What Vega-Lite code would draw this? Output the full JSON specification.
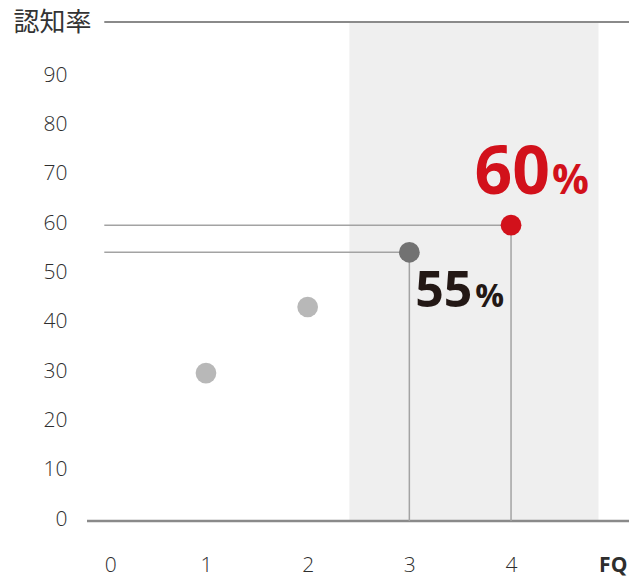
{
  "$schema": "https://vega.github.io/schema/vega-lite/v6.json",
  "width": 542,
  "height": 499,
  "autosize": "none",
  "padding": {"left": 87, "top": 22, "right": 0, "bottom": 58},
  "background": "white",
  "config": {"view": {"stroke": null}},
  "datasets": {
    "points": [
      {"fq": 1, "rate": 30, "grp": "low", "base": 0, "origin": 0},
      {"fq": 2, "rate": 43.4, "grp": "low", "base": 0, "origin": 0},
      {"fq": 3, "rate": 54.5, "grp": "mid", "base": 0, "origin": 0},
      {"fq": 4, "rate": 60, "grp": "high", "base": 0, "origin": 0}
    ],
    "labels": [
      {"fq": 3, "rate": 54.5, "num": "55", "pct": "%"},
      {"fq": 4, "rate": 60, "num": "60", "pct": "%"}
    ]
  },
  "layer": [
    {
      "data": {"values": [{"from": 2.41, "to": 4.86, "low": 0, "high": 101.2}]},
      "mark": {"type": "rect", "color": "#efefef"},
      "encoding": {
        "x": {
          "field": "from",
          "type": "quantitative",
          "scale": {"domain": [-0.17, 5.16], "nice": false, "zero": false},
          "axis": {
            "values": [0, 1, 2, 3, 4, 5],
            "format": "d",
            "labelExpr": "datum.value == 5 ? 'FQ' : datum.label",
            "labelFontWeight": {"condition": {"test": "datum.value == 5", "value": "bold"}, "value": 300},
            "labelColor": "#2e2e2e",
            "labelOffset": {"condition": {"test": "datum.value == 0", "value": 6}, "value": 0},
            "labelFont": "Open Sans",
            "labelFontSize": 21,
            "labelPadding": 33,
            "domain": false,
            "ticks": false,
            "grid": false,
            "title": null
          }
        },
        "x2": {"field": "to"},
        "y": {
          "field": "low",
          "type": "quantitative",
          "scale": {"domain": [0, 101.2], "nice": false},
          "axis": {
            "values": [0, 10, 20, 30, 40, 50, 60, 70, 80, 90],
            "labelFont": "Open Sans",
            "labelFontSize": 21,
            "labelFontWeight": 300,
            "labelColor": "#2e2e2e",
            "labelPadding": 20,
            "labelOffset": -2,
            "domain": false,
            "ticks": false,
            "grid": false,
            "title": "認知率",
            "titleFont": "Noto Sans CJK JP",
            "titleFontSize": 26,
            "titleFontWeight": "normal",
            "titleColor": "#333333",
            "titleAngle": 0,
            "titleAlign": "left",
            "titleBaseline": "middle",
            "titleX": -74,
            "titleY": 0
          }
        },
        "y2": {"field": "high"}
      }
    },
    {
      "data": {"values": [{"start": 0, "end": 5.16, "level": 101.2}]},
      "mark": {"type": "rule", "color": "#8a8a8a", "strokeWidth": 2},
      "encoding": {
        "x": {"field": "start", "type": "quantitative"},
        "x2": {"field": "end"},
        "y": {"field": "level", "type": "quantitative"}
      }
    },
    {
      "data": {"values": [{"start": -0.17, "end": 5.16, "level": 0}]},
      "mark": {"type": "rule", "color": "#8a8a8a", "strokeWidth": 2.5},
      "encoding": {
        "x": {"field": "start", "type": "quantitative"},
        "x2": {"field": "end"},
        "y": {"field": "level", "type": "quantitative"}
      }
    },
    {
      "data": {"name": "points"},
      "transform": [{"filter": "datum.fq >= 3"}],
      "mark": {"type": "rule", "color": "#a3a3a3", "strokeWidth": 1.5},
      "encoding": {
        "x": {"field": "origin", "type": "quantitative"},
        "x2": {"field": "fq"},
        "y": {"field": "rate", "type": "quantitative"}
      }
    },
    {
      "data": {"name": "points"},
      "transform": [{"filter": "datum.fq >= 3"}],
      "mark": {"type": "rule", "color": "#a3a3a3", "strokeWidth": 1.5},
      "encoding": {
        "x": {"field": "fq", "type": "quantitative"},
        "y": {"field": "base", "type": "quantitative"},
        "y2": {"field": "rate"}
      }
    },
    {
      "data": {"name": "points"},
      "mark": {"type": "circle", "size": 430, "opacity": 1},
      "encoding": {
        "x": {"field": "fq", "type": "quantitative"},
        "y": {"field": "rate", "type": "quantitative"},
        "color": {
          "field": "grp",
          "type": "nominal",
          "scale": {"domain": ["low", "mid", "high"], "range": ["#b8b8b8", "#727272", "#d2111b"]},
          "legend": null
        }
      }
    },
    {
      "data": {"name": "labels"},
      "transform": [{"filter": "datum.fq == 4"}],
      "mark": {"type": "text", "font": "Open Sans", "fontWeight": "bold", "fontSize": 66, "color": "#d2111b", "align": "right", "baseline": "alphabetic", "dx": 39, "dy": -31},
      "encoding": {
        "x": {"field": "fq", "type": "quantitative"},
        "y": {"field": "rate", "type": "quantitative"},
        "text": {"field": "num"}
      }
    },
    {
      "data": {"name": "labels"},
      "transform": [{"filter": "datum.fq == 4"}],
      "mark": {"type": "text", "font": "Open Sans", "fontWeight": "bold", "fontSize": 41, "color": "#d2111b", "align": "left", "baseline": "alphabetic", "dx": 41, "dy": -31},
      "encoding": {
        "x": {"field": "fq", "type": "quantitative"},
        "y": {"field": "rate", "type": "quantitative"},
        "text": {"field": "pct"}
      }
    },
    {
      "data": {"name": "labels"},
      "transform": [{"filter": "datum.fq == 3"}],
      "mark": {"type": "text", "font": "Open Sans", "fontWeight": "bold", "fontSize": 50, "color": "#231815", "align": "right", "baseline": "alphabetic", "dx": 63, "dy": 55},
      "encoding": {
        "x": {"field": "fq", "type": "quantitative"},
        "y": {"field": "rate", "type": "quantitative"},
        "text": {"field": "num"}
      }
    },
    {
      "data": {"name": "labels"},
      "transform": [{"filter": "datum.fq == 3"}],
      "mark": {"type": "text", "font": "Open Sans", "fontWeight": "bold", "fontSize": 32, "color": "#231815", "align": "left", "baseline": "alphabetic", "dx": 66, "dy": 55},
      "encoding": {
        "x": {"field": "fq", "type": "quantitative"},
        "y": {"field": "rate", "type": "quantitative"},
        "text": {"field": "pct"}
      }
    }
  ]
}
